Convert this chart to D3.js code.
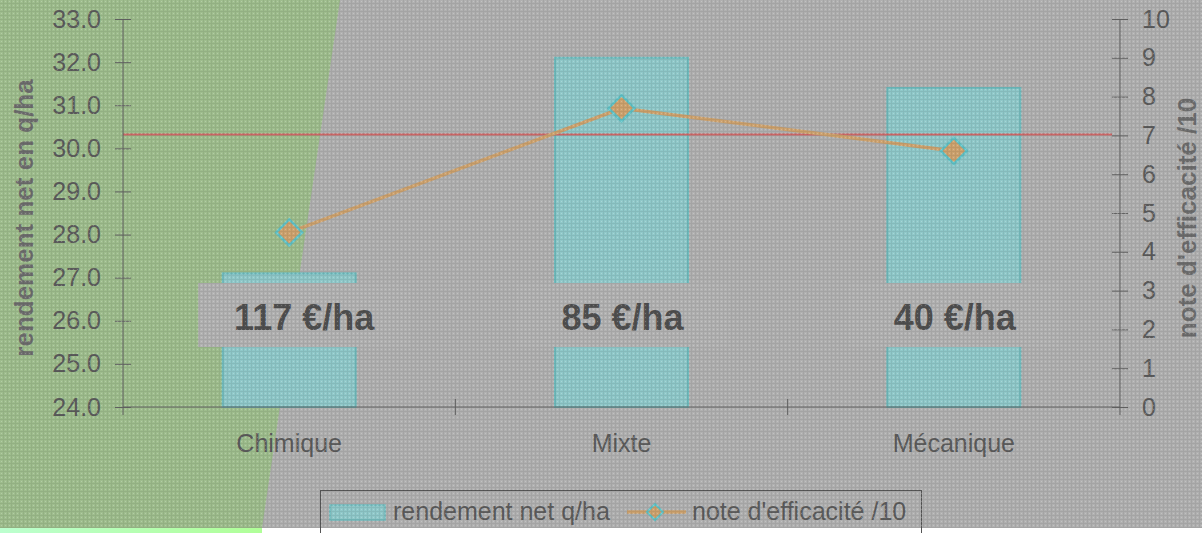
<!DOCTYPE html>
<html><head><meta charset="utf-8">
<script src="https://cdn.jsdelivr.net/npm/d3@7"></script>
<style>html,body{margin:0;padding:0;background:#fff;overflow:hidden}svg{display:block}</style>
</head><body><svg id="c" width="1202" height="533"></svg>
<script>
const categories = ["Chimique", "Mixte", "Mécanique"];
const rendement = [27.1, 32.1, 31.4];
const note = [4.5, 7.7, 6.6];
const costLabels = ["117 €/ha", "85 €/ha", "40 €/ha"];
const referenceNote = 7;
const leftTicks = [24, 25, 26, 27, 28, 29, 30, 31, 32, 33];
const rightTicks = [0, 1, 2, 3, 4, 5, 6, 7, 8, 9, 10];
const seriesNames = ["rendement net q/ha", "note d'efficacité /10"];
const axisTitles = ["rendement net en q/ha", "note d'efficacité /10"];

const svg = d3.select("#c");
const FONT = "'Liberation Sans', Arial, sans-serif";
const P = {l: 123, r: 1120, t: 19, b: 407};

const x = d3.scaleBand().domain(categories).range([P.l, P.r]).padding(0);
const yL = d3.scaleLinear().domain([24, 33]).range([P.b, P.t]);
const yR = d3.scaleLinear().domain([0, 10]).range([P.b, P.t]);
const cx = c => x(c) + x.bandwidth() / 2;

const C = {
  bg: "#b0b0b0", green: "#9ebd8d", bar: "#8fc8c9", barStroke: "#70bcbe",
  box: "#b2b2b2", red: "#cc6666", tan: "#cda26e", teal: "#62c2c6",
  axis: "#666", text: "#5c5c5c", title: "#6e6e6e"
};

// background
const defs = svg.append("defs");
const g1 = defs.append("linearGradient").attr("id", "gstrip");
g1.append("stop").attr("offset", "0%").attr("stop-color", "#bcffcf");
g1.append("stop").attr("offset", "100%").attr("stop-color", "#b0ff98");
const pat = defs.append("pattern").attr("id", "dither").attr("width", 4).attr("height", 4)
  .attr("patternUnits", "userSpaceOnUse");
pat.append("rect").attr("x", 0).attr("y", 3).attr("width", 4).attr("height", 1).attr("fill", "rgba(0,0,0,0.07)");
pat.append("rect").attr("x", 3).attr("y", 0).attr("width", 1).attr("height", 3).attr("fill", "rgba(0,0,0,0.07)");
pat.append("rect").attr("x", 1).attr("y", 1).attr("width", 1).attr("height", 1).attr("fill", "rgba(255,255,255,0.22)");

svg.append("rect").attr("x", 0).attr("y", 0).attr("width", 1202).attr("height", 533).attr("fill", "#fff");
svg.append("rect").attr("x", 0).attr("y", 0).attr("width", 1202).attr("height", 528).attr("fill", C.bg);
svg.append("path").attr("d", "M0,0 L340,0 L262,528 L0,528 Z").attr("fill", C.green);
svg.append("rect").attr("x", 0).attr("y", 528).attr("width", 262).attr("height", 5).attr("fill", "url(#gstrip)");

// bars
const bw = x.bandwidth() * 0.4;
svg.append("g").selectAll("rect").data(categories).join("rect")
  .attr("x", c => cx(c) - bw / 2)
  .attr("y", (c, i) => yL(rendement[i]))
  .attr("width", bw)
  .attr("height", (c, i) => yL(24) - yL(rendement[i]))
  .attr("fill", C.bar).attr("stroke", C.barStroke).attr("stroke-width", 2);

// cost label boxes + text
const labelG = svg.append("g");
categories.forEach((c, i) => {
  const tx = cx(c) + (i === 0 ? 15 : 1);
  labelG.append("rect").attr("x", tx - 106).attr("y", 283).attr("width", 212).attr("height", 64).attr("fill", C.box);
  labelG.append("text").attr("x", tx).attr("y", 330).attr("text-anchor", "middle")
    .attr("font-family", FONT).attr("font-weight", "bold").attr("font-size", 36)
    .attr("fill", "#505050").text(costLabels[i]);
});

// reference line
svg.append("line").attr("x1", P.l).attr("x2", P.r - 8)
  .attr("y1", yR(referenceNote) - 1).attr("y2", yR(referenceNote) - 1)
  .attr("stroke", C.red).attr("stroke-width", 2);

// axes
function styleAxis(g, labelOffset, anchor) {
  g.select(".domain").remove();
  g.selectAll(".tick line").attr("x1", -8).attr("x2", 8).attr("stroke", C.axis);
  g.selectAll(".tick text").attr("x", labelOffset).attr("text-anchor", anchor)
    .attr("font-family", FONT).attr("font-size", 25).attr("fill", C.text);
}
const axL = svg.append("g").attr("transform", `translate(${P.l},0)`)
  .call(d3.axisLeft(yL).tickValues(leftTicks).tickFormat(d3.format(".1f")));
styleAxis(axL, -22, "end");
const axR = svg.append("g").attr("transform", `translate(${P.r},0)`)
  .call(d3.axisRight(yR).tickValues(rightTicks).tickFormat(d3.format("d")));
styleAxis(axR, 22, "start");

svg.append("line").attr("x1", P.l).attr("x2", P.l).attr("y1", P.t).attr("y2", P.b + 8).attr("stroke", C.axis);
svg.append("line").attr("x1", P.r).attr("x2", P.r).attr("y1", P.t).attr("y2", P.b + 8).attr("stroke", C.axis);
svg.append("line").attr("x1", P.l).attr("x2", P.r).attr("y1", P.b).attr("y2", P.b).attr("stroke", C.axis);
svg.append("g").selectAll("line").data(categories.slice(1)).join("line")
  .attr("x1", c => x(c)).attr("x2", c => x(c)).attr("y1", P.b - 8).attr("y2", P.b + 8).attr("stroke", C.axis);
svg.append("g").selectAll("text").data(categories).join("text")
  .attr("x", cx).attr("y", 452).attr("text-anchor", "middle")
  .attr("font-family", FONT).attr("font-size", 25).attr("fill", C.text).text(d => d);

// axis titles
svg.append("text").attr("transform", `translate(33,218) rotate(-90)`).attr("text-anchor", "middle")
  .attr("font-family", FONT).attr("font-weight", "bold").attr("font-size", 26).attr("fill", C.title).text(axisTitles[0]);
svg.append("text").attr("transform", `translate(1196,218) rotate(-90)`).attr("text-anchor", "middle")
  .attr("font-family", FONT).attr("font-weight", "bold").attr("font-size", 26).attr("fill", C.title).text(axisTitles[1]);

// line series
const lineGen = d3.line().x(d => cx(d.c)).y(d => yR(d.v));
const pts = categories.map((c, i) => ({c, v: note[i]}));
svg.append("path").datum(pts).attr("d", lineGen).attr("fill", "none")
  .attr("stroke", C.tan).attr("stroke-width", 3.5);
const diamond = (px, py, r) => `M${px},${py - r}L${px + r},${py}L${px},${py + r}L${px - r},${py}Z`;
svg.append("g").selectAll("path").data(pts).join("path")
  .attr("d", d => diamond(cx(d.c), yR(d.v), 13))
  .attr("fill", C.tan).attr("stroke", C.teal).attr("stroke-width", 2.5);

// legend
const lg = svg.append("g");
lg.append("rect").attr("x", 320.5).attr("y", 490.5).attr("width", 601).attr("height", 60)
  .attr("fill", "none").attr("stroke", "#555");
lg.append("rect").attr("x", 330).attr("y", 505).attr("width", 55).attr("height", 15)
  .attr("fill", C.bar).attr("stroke", C.barStroke).attr("stroke-width", 1.5);
lg.append("text").attr("x", 393).attr("y", 520).attr("font-family", FONT).attr("font-size", 25)
  .attr("fill", C.text).text(seriesNames[0]);
lg.append("line").attr("x1", 627).attr("x2", 686).attr("y1", 512).attr("y2", 512)
  .attr("stroke", C.tan).attr("stroke-width", 3.5);
lg.append("path").attr("d", diamond(655, 512, 8)).attr("fill", C.tan).attr("stroke", C.teal).attr("stroke-width", 2);
lg.append("text").attr("x", 692).attr("y", 520).attr("font-family", FONT).attr("font-size", 25)
  .attr("fill", C.text).text(seriesNames[1]);

// dither texture over the chart area (as in the reference)
svg.append("rect").attr("x", 0).attr("y", 0).attr("width", 1202).attr("height", 528)
  .attr("fill", "url(#dither)").attr("pointer-events", "none");
</script></body></html>
